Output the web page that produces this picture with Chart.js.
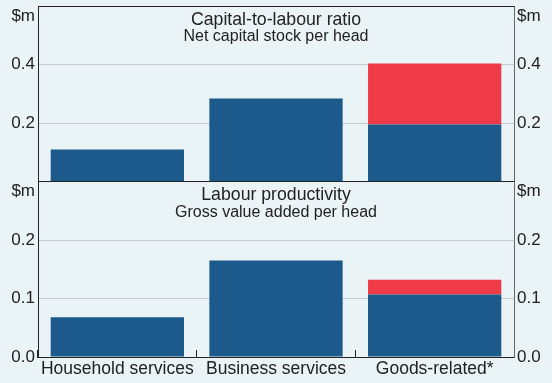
<!DOCTYPE html>
<html>
<head>
<meta charset="utf-8">
<script src="https://cdn.jsdelivr.net/npm/chart.js@4"></script>
<style>
  html, body { margin: 0; padding: 0; background: #eaf3f6; }
  #wrap { width: 552px; height: 383px; }
</style>
</head>
<body>
<div id="wrap"><canvas id="myChart" width="552" height="383"></canvas></div>
<script>
// ── data ──
const categories       = ['Household services', 'Business services', 'Goods-related*'];
const capitalBase      = [0.109, 0.284, 0.195];
const capitalExtra     = [null, null, 0.208];
const productivityBase = [0.068, 0.165, 0.107];
const productivityExtra = [null, null, 0.025];

const topTicks    = [0, 0.2, 0.4, 0.6];
const bottomTicks = [0, 0.1, 0.2, 0.3];
const unitLabel   = '$m';
const panelTitles = [
  ['Capital-to-labour ratio', 'Net capital stock per head'],
  ['Labour productivity', 'Gross value added per head']
];

const BLUE = '#1b5a8a';
const RED  = '#ef3a48';
const INK  = '#222';
const GRID = '#c6ccd0';
const FONT = "'Liberation Sans', Arial, sans-serif";

Chart.defaults.font.family = FONT;
Chart.defaults.color = INK;

function noEdgePadding(s) {
  s.paddingTop = 0; s.paddingBottom = 0; s.paddingLeft = 0; s.paddingRight = 0;
}

function yScale(side, order, ticks, hideZero) {
  const max = ticks[ticks.length - 1];
  return {
    type: 'linear',
    position: side,
    stack: side,
    weight: order,
    stacked: true,
    min: 0,
    max: max,
    afterBuildTicks: s => { s.ticks = ticks.map(v => ({ value: v })); },
    afterFit: s => { s.width = 38; noEdgePadding(s); },
    ticks: {
      autoSkip: false,
      padding: 3,
      font: { size: 17 },
      color: INK,
      callback: v => {
        if (Math.abs(v - max) < 1e-9) return ['', unitLabel];
        if (hideZero && v === 0) return '';
        return v.toFixed(1);
      }
    },
    grid: side === 'left' ? {
      drawTicks: false,
      lineWidth: 1,
      color: c => (c.tick && (Math.abs(c.tick.value - max) < 1e-9 || c.tick.value === 0)) ? INK : GRID
    } : { display: false, drawTicks: false },
    border: { display: true, color: side === 'left' ? INK : '#666', width: 1 }
  };
}

// draws the two panel headings inside the plot
const panelTitlePlugin = {
  id: 'panelTitles',
  afterDatasetsDraw(chart) {
    const { ctx, chartArea } = chart;
    const cx = (chartArea.left + chartArea.right) / 2;
    const tops = [chart.scales.yTopL.top, chart.scales.yBotL.top];
    ctx.save();
    ctx.fillStyle = INK;
    ctx.textAlign = 'center';
    ctx.textBaseline = 'alphabetic';
    tops.forEach((t, i) => {
      ctx.font = '17.7px ' + FONT;
      ctx.fillText(panelTitles[i][0], cx, t + 18.5);
      ctx.font = '16px ' + FONT;
      ctx.fillText(panelTitles[i][1], cx, t + 35);
    });
    ctx.restore();
  }
};

const ctx = document.getElementById('myChart').getContext('2d');
new Chart(ctx, {
  type: 'bar',
  data: {
    labels: categories,
    datasets: [
      { data: capitalBase,       backgroundColor: BLUE, yAxisID: 'yTopL' },
      { data: capitalExtra,      backgroundColor: RED,  yAxisID: 'yTopL' },
      { data: productivityBase,  backgroundColor: BLUE, yAxisID: 'yBotL' },
      { data: productivityExtra, backgroundColor: RED,  yAxisID: 'yBotL' }
    ]
  },
  options: {
    responsive: false,
    animation: false,
    layout: { padding: { top: 6, left: 0, right: 0, bottom: 0 } },
    datasets: { bar: { categoryPercentage: 1, barPercentage: 0.84, borderWidth: 0 } },
    plugins: { legend: { display: false }, tooltip: { enabled: false } },
    scales: {
      x: {
        type: 'category',
        stacked: true,
        offset: true,
        afterFit: s => { s.height = 26; noEdgePadding(s); },
        grid: { offset: true, drawOnChartArea: false, tickLength: -7, color: INK, lineWidth: 1 },
        border: { display: true, color: INK, width: 1 },
        ticks: { padding: 9, font: { size: 17.5 }, color: INK, maxRotation: 0, autoSkip: false }
      },
      yBotL: yScale('left', 1, bottomTicks, false),
      yTopL: yScale('left', 2, topTicks, true),
      yTopR: yScale('right', 1, topTicks, true),
      yBotR: yScale('right', 2, bottomTicks, false)
    }
  },
  plugins: [panelTitlePlugin]
});
</script>
</body>
</html>
